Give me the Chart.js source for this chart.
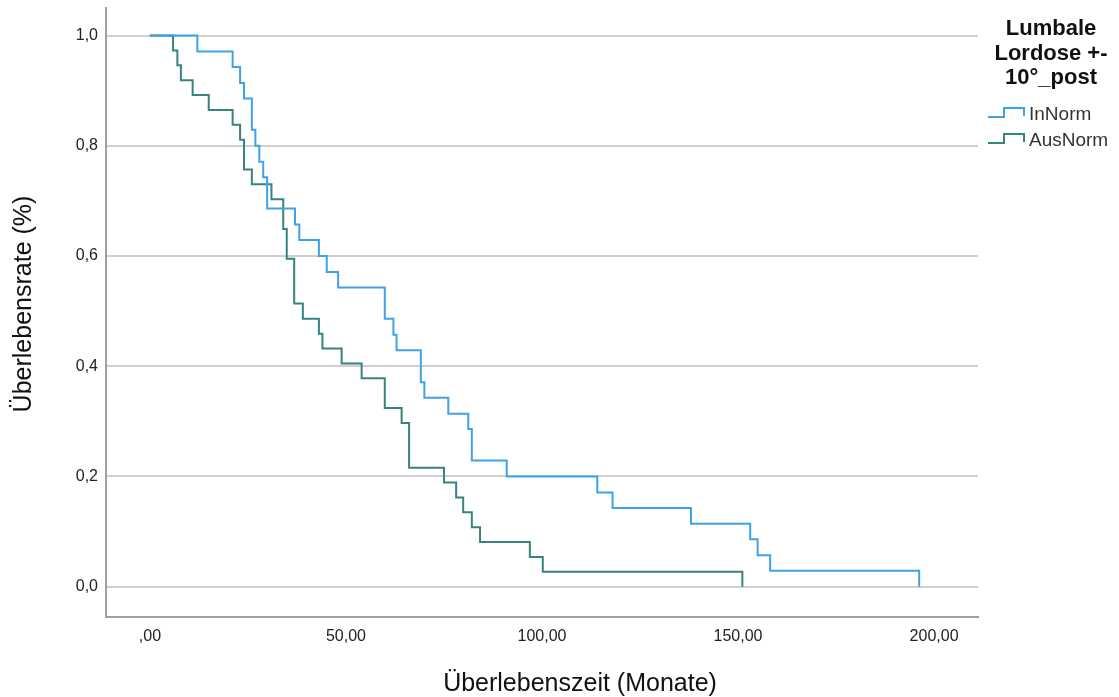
<!DOCTYPE html>
<html>
<head>
<meta charset="utf-8">
<script src="https://cdn.jsdelivr.net/npm/chart.js@4.4.1/dist/chart.umd.min.js"></script>
<style>
  html, body { margin: 0; padding: 0; background: #fff; }
  #wrap { width: 1119px; height: 697px; }
</style>
</head>
<body>
<div id="wrap"><canvas id="kmChart" width="1119" height="697"></canvas></div>
<script>
// Kaplan-Meier steps: time of event (months) and survival rate after it
const inNormTime = [0, 12.1, 21.1, 23.0, 24.0, 26.0, 26.9, 27.9, 28.9, 29.9, 37.0, 38.1, 43.1, 45.1, 48.0, 59.9, 62.1, 62.9, 69.1, 70.0, 76.1, 81.2, 82.1, 91.0, 114.1, 118.0, 138.0, 153.1, 155.0, 158.2, 196.2]
const inNormSurv = [1, .971, .943, .914, .886, .829, .800, .771, .743, .686, .657, .629, .600, .571, .543, .486, .457, .429, .371, .343, .314, .286, .229, .200, .171, .143, .114, .086, .057, .029, 0]
const ausNormTime = [0, 5.9, 7.0, 7.9, 10.9, 15.0, 21.1, 23.0, 24.0, 26.0, 31.0, 34.0, 34.9, 36.8, 39.0, 43.1, 44.0, 48.9, 54.0, 59.9, 64.2, 66.1, 75.0, 78.1, 79.9, 82.1, 84.2, 96.9, 100.2, 151.1]
const ausNormSurv = [1, .973, .946, .919, .892, .865, .838, .811, .757, .730, .703, .649, .595, .514, .486, .459, .432, .405, .378, .324, .297, .216, .189, .162, .135, .108, .081, .054, .027, 0]

const seriesNames = ['InNorm', 'AusNorm']
const legendTitle = ['Lumbale', 'Lordose +-', '10°_post']
const xTickValues = [0, 50, 100, 150, 200]
const xTickLabels = [',00', '50,00', '100,00', '150,00', '200,00']
const yTickValues = [0, 0.2, 0.4, 0.6, 0.8, 1.0]
const yTickLabels = ['0,0', '0,2', '0,4', '0,6', '0,8', '1,0']
const xTitle = 'Überlebenszeit (Monate)'
const yTitle = 'Überlebensrate (%)'

const FONT = '"Liberation Sans", Arial, sans-serif'
const colors = ['#3fa2e8', '#37837e']

const toPoints = (t, s) => t.map((x, i) => ({x: x, y: s[i]}))

//axis titles drawn by hand so they sit where SPSS puts them
const axisTitles = {
  id: 'axisTitles',
  afterDraw(chart) {
    const ctx = chart.ctx
    ctx.save()
    ctx.fillStyle = '#111'
    ctx.font = '25px ' + FONT
    ctx.textAlign = 'center'
    ctx.textBaseline = 'middle'
    ctx.fillText(xTitle, 580, 684)
    ctx.translate(24, 304)
    ctx.rotate(-Math.PI / 2)
    ctx.fillText(yTitle, 0, 0)
    ctx.restore()
  }
}

//legend with step-shaped keys
const kmLegend = {
  id: 'kmLegend',
  afterDraw(chart) {
    const ctx = chart.ctx
    ctx.save()
    ctx.fillStyle = '#111'
    ctx.font = 'bold 22px ' + FONT
    ctx.textAlign = 'center'
    ctx.textBaseline = 'middle'
    legendTitle.forEach((line, i) => {
      ctx.fillText(line, 1051, 29 + i * 24.5)
    })
    ctx.font = '19px ' + FONT
    ctx.textAlign = 'left'
    chart.data.datasets.forEach((ds, i) => {
      const yc = 114 + i * 26
      ctx.strokeStyle = ds.borderColor
      ctx.lineWidth = 2
      ctx.beginPath()
      ctx.moveTo(988, yc + 3)
      ctx.lineTo(1004, yc + 3)
      ctx.lineTo(1004, yc - 6)
      ctx.lineTo(1024, yc - 6)
      ctx.lineTo(1024, yc + 2)
      ctx.stroke()
      ctx.fillStyle = '#333'
      ctx.fillText(ds.label, 1029, yc + 1)
    })
    ctx.restore()
  }
}

const ctx = document.getElementById('kmChart')
const chart = new Chart(ctx, {
  type: 'line',
  data: {
    datasets: [
      {
        label: seriesNames[0],
        data: toPoints(inNormTime, inNormSurv),
        borderColor: colors[0],
        borderWidth: 2,
        stepped: true,
        pointRadius: 0,
        fill: false,
        borderJoinStyle: 'miter',
        borderCapStyle: 'butt'
      },
      {
        label: seriesNames[1],
        data: toPoints(ausNormTime, ausNormSurv),
        borderColor: colors[1],
        borderWidth: 2,
        stepped: true,
        pointRadius: 0,
        fill: false,
        borderJoinStyle: 'miter',
        borderCapStyle: 'butt'
      }
    ]
  },
  options: {
    animation: false,
    responsive: false,
    layout: { padding: { top: 8, right: 141, bottom: 0, left: 0 } },
    plugins: {
      legend: { display: false },
      tooltip: { enabled: false }
    },
    scales: {
      x: {
        type: 'linear',
        min: -11.2,
        max: 211.2,
        afterBuildTicks: (s) => { s.ticks = xTickValues.map(v => ({value: v})) },
        afterFit: (s) => { s.height = 80; s.paddingLeft = 0; s.paddingRight = 0 },
        ticks: {
          callback: (v, i) => xTickLabels[i],
          padding: 10,
          autoSkip: false,
          maxRotation: 0,
          color: '#222',
          font: { family: FONT, size: 16 }
        },
        grid: { display: false, drawTicks: false },
        border: { color: '#a0a0a0', width: 2 }
      },
      y: {
        type: 'linear',
        min: -0.055,
        max: 1.05,
        afterBuildTicks: (s) => { s.ticks = yTickValues.map(v => ({value: v})) },
        afterFit: (s) => { s.width = 106; s.paddingTop = 0; s.paddingBottom = 0 },
        ticks: {
          callback: (v, i) => yTickLabels[i],
          padding: 8,
          color: '#222',
          font: { family: FONT, size: 16 }
        },
        grid: { color: '#cfcfcf', lineWidth: 2, drawTicks: false },
        border: { color: '#a0a0a0', width: 2 }
      }
    }
  },
  plugins: [axisTitles, kmLegend]
})
</script>
</body>
</html>
